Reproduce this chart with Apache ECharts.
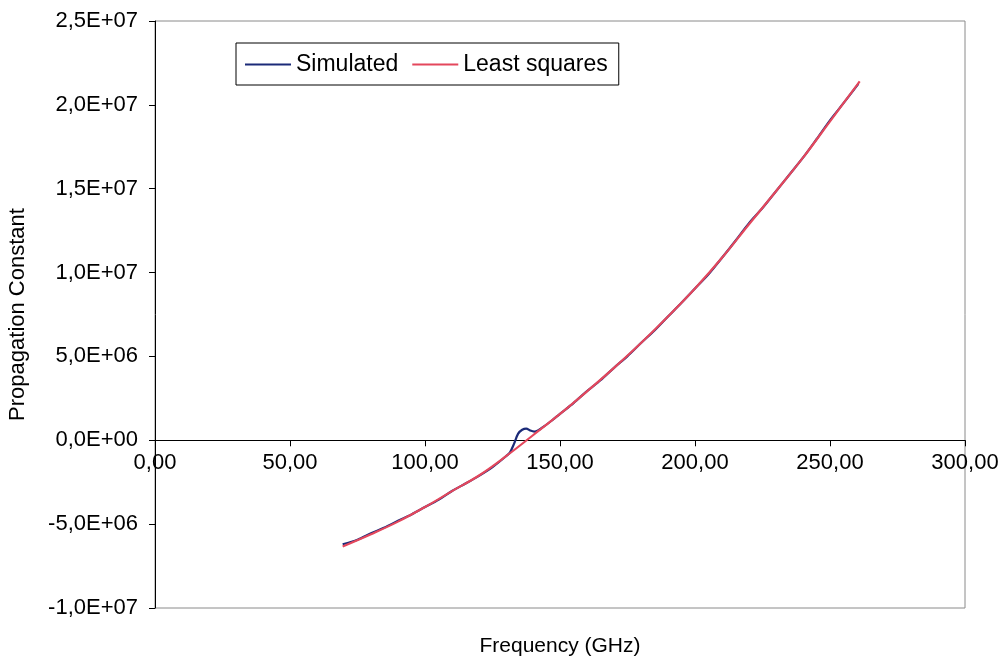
<!DOCTYPE html>
<html>
<head>
<meta charset="utf-8">
<script src="https://cdn.jsdelivr.net/npm/echarts@6/dist/echarts.min.js"></script>
<style>
  html, body { margin: 0; padding: 0; background: #fff; }
  #chart { width: 1005px; height: 661px; }
</style>
</head>
<body>
<div id="chart"></div>
<script>
// Frequency sweep (GHz) and propagation constant from the simulation
const simFreq = [69.5, 75, 80, 85, 90, 95, 100, 105, 110, 115, 120, 125, 130, 131.5, 133, 134.5,
  136, 137.5, 139, 140.5, 142, 143.8, 147, 150, 155, 160, 165, 170, 175, 180, 185, 190, 195,
  200, 205, 210, 215, 220, 225, 230, 235, 240, 245, 250, 255, 260.5];
const simValue = [-6.20e6, -5.93e6, -5.55e6, -5.20e6, -4.80e6, -4.42e6, -3.98e6, -3.55e6, -3.02e6,
  -2.58e6, -2.12e6, -1.60e6, -0.95e6, -0.72e6, -0.20e6, 0.40e6, 0.63e6, 0.70e6, 0.58e6, 0.52e6,
  0.60e6, 0.80e6, 1.18e6, 1.58e6, 2.22e6, 2.93e6, 3.58e6, 4.32e6, 5.02e6, 5.80e6, 6.55e6, 7.38e6,
  8.20e6, 9.05e6, 9.90e6, 10.88e6, 11.90e6, 12.95e6, 13.85e6, 14.85e6, 15.85e6, 16.85e6, 17.95e6,
  19.08e6, 20.10e6, 21.25e6];

// Least-squares fit of the same quantity
const lsFreq = [69.5, 80, 90, 100, 110, 120, 130, 140, 150, 160, 170, 180, 190, 200, 210, 220,
  230, 240, 250, 260, 261];
const lsValue = [-6.33e6, -5.60e6, -4.85e6, -3.98e6, -3.03e6, -2.10e6, -0.95e6, 0.30e6, 1.57e6,
  2.92e6, 4.32e6, 5.80e6, 7.38e6, 9.05e6, 10.88e6, 12.88e6, 14.85e6, 16.85e6, 19.02e6, 21.18e6,
  21.40e6];

const seriesNames = ['Simulated', 'Least squares'];
const xTicks = { min: 0, max: 300, step: 50 };
const yTicks = { min: -1e7, max: 2.5e7, step: 5e6 };

function pairs(xs, ys) { return xs.map((x, i) => [x, ys[i]]); }

// Spreadsheet-style scientific notation with a decimal comma: 2,5E+07
function sci(v) {
  if (v === 0) return '0,0E+00';
  const e = Math.floor(Math.log10(Math.abs(v)) + 1e-9);
  const m = (v / Math.pow(10, e)).toFixed(1).replace('.', ',');
  const es = (e < 0 ? '-' : '+') + String(Math.abs(e)).padStart(2, '0');
  return m + 'E' + es;
}

const font = 'Liberation Sans, Arial, sans-serif';
const GRID = { left: 155, right: 40, top: 21, bottom: 53 };
const plotHeight = 661 - GRID.top - GRID.bottom;
// lift the frequency axis from the bottom edge up to the zero line of the value axis
const zeroLift = plotHeight * (0 - yTicks.min) / (yTicks.max - yTicks.min);

const chart = echarts.init(document.getElementById('chart'), null, { renderer: 'canvas' });

chart.setOption({
  animation: false,
  backgroundColor: '#ffffff',
  grid: {
    left: GRID.left, right: GRID.right, top: GRID.top, bottom: GRID.bottom,
    containLabel: false,
    outerBoundsMode: 'none',
    show: true, borderColor: '#8a8a8a', borderWidth: 1, backgroundColor: 'transparent'
  },
  legend: {
    data: seriesNames,
    left: 236, top: 43,
    orient: 'horizontal',
    backgroundColor: '#fff',
    borderColor: '#000', borderWidth: 1,
    padding: [10, 11, 9, 9],
    itemGap: 14,
    itemWidth: 46, itemHeight: 2,
    icon: 'rect',
    textStyle: { fontFamily: font, fontSize: 23, color: '#000' }
  },
  xAxis: {
    type: 'value',
    position: 'bottom',
    offset: -zeroLift,
    min: xTicks.min, max: xTicks.max, interval: xTicks.step,
    name: 'Frequency (GHz)',
    nameLocation: 'middle',
    nameGap: 195,
    nameTextStyle: { fontFamily: font, fontSize: 21, color: '#000' },
    axisLine: { show: true, onZero: false, lineStyle: { color: '#000', width: 1 } },
    axisTick: { show: true, inside: false, length: 6, lineStyle: { color: '#000' } },
    axisLabel: {
      fontFamily: font, fontSize: 22, color: '#000', margin: 12,
      formatter: v => v.toFixed(2).replace('.', ',')
    },
    splitLine: { show: false }
  },
  yAxis: {
    type: 'value',
    min: yTicks.min, max: yTicks.max, interval: yTicks.step,
    name: 'Propagation Constant',
    nameLocation: 'middle',
    nameGap: 126,
    nameRotate: 90,
    nameTextStyle: { fontFamily: font, fontSize: 22, color: '#000' },
    axisLine: { show: true, onZero: false, lineStyle: { color: '#000', width: 1 } },
    axisTick: { show: true, inside: false, length: 6, lineStyle: { color: '#000' } },
    axisLabel: { fontFamily: font, fontSize: 22, color: '#000', margin: 17, formatter: sci },
    splitLine: { show: false }
  },
  series: [
    {
      name: seriesNames[0],
      type: 'line',
      data: pairs(simFreq, simValue),
      smooth: 0.3,
      symbol: 'none',
      lineStyle: { color: '#1b2a78', width: 2.2 },
      itemStyle: { color: '#1b2a78' },
      z: 2
    },
    {
      name: seriesNames[1],
      type: 'line',
      data: pairs(lsFreq, lsValue),
      smooth: 0.4,
      symbol: 'none',
      lineStyle: { color: '#e4475c', width: 2.2 },
      itemStyle: { color: '#e4475c' },
      z: 3
    }
  ]
});
</script>
</body>
</html>
